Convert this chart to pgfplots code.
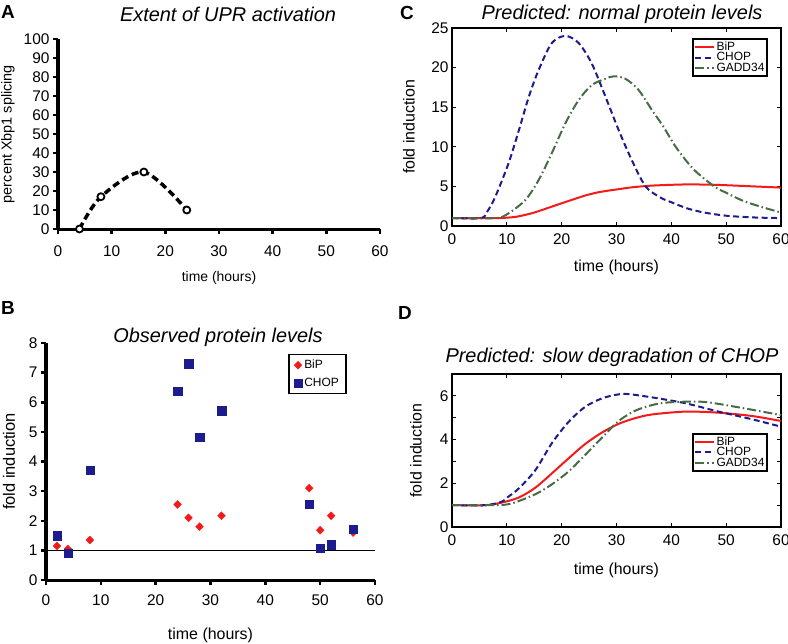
\documentclass[border=0pt]{standalone}
\usepackage{fontspec}
\setmainfont{Liberation Sans}
\usepackage{pgfplots}
\pgfplotsset{compat=1.18}

\definecolor{BipRed}{HTML}{F51A1A}
\definecolor{ChopBlue}{HTML}{1C1C8C}
\definecolor{GaddGreen}{HTML}{466C46}

\newcommand{\fs}[1]{\fontsize{#1}{#1}\selectfont}

\pgfplotsset{
  panel/.style={
    scale only axis, anchor=south west,
    xmin=0, xmax=60, xtick={0,10,...,60},
    /pgf/number format/assume math mode=true,
    tick label style={font=\fs{15.5}},
    every axis title shift=0pt,
    title style={font=\fs{20}\itshape, anchor=center},
    xlabel style={anchor=center, font=\fs{16}},
    ylabel style={anchor=center, font=\fs{16}},
  },
  prism/.style={
    panel, axis lines=left,
    axis line style={line width=3bp, -},
    tick style={line width=2.5bp, black},
    tick align=outside, major tick length=5bp,
  },
  matlab/.style={
    panel,
    axis line style={line width=1.6bp},
    tick style={line width=0.8bp, black},
    tick align=inside, major tick length=4bp,
    xticklabel style={yshift=-4.5bp},
    legend cell align=left,
    legend image code/.code={\draw[##1] (0bp,0bp) -- (19bp,0bp);},
    legend style={draw=black, line width=1.5bp, font=\fs{12}, anchor=north east,
      inner sep=1.5pt, row sep=-1.5pt, column sep=0pt,
      nodes={inner sep=1.2pt}},
  },
  bip/.style={BipRed, line width=2bp, smooth},
  chop/.style={ChopBlue, line width=2bp, smooth, dash pattern=on 6bp off 3.5bp},
  gadd/.style={GaddGreen, line width=2bp, smooth, dash pattern=on 9bp off 3bp on 1.5bp off 3bp},
}

\begin{document}
\begin{tikzpicture}
\path[use as bounding box] (0bp,0bp) rectangle (788bp,-644bp);

% A
\begin{axis}[prism, at={(58bp,-229bp)}, width=322bp, height=190bp,
  ymin=0, ymax=100, ytick={0,10,...,100}, clip=false,
  xticklabel style={yshift=-8bp},
  title={Extent of UPR activation},
  title style={at={([xshift=9bp,yshift=25bp]axis description cs:0.5,1)}},
  xlabel={time (hours)},
  xlabel style={at={([yshift=-49bp]axis description cs:0.5,0)}, font=\fs{14}},
  ylabel={percent Xbp1 splicing},
  ylabel style={at={([xshift=-50bp]axis description cs:0,0.5)}, font=\fs{14.5}},
]
\addplot[black, line width=3.5bp, dash pattern=on 7bp off 4bp, smooth,
  mark=*, mark size=3.5bp, mark options={solid, fill=white, draw=black, line width=1.8bp}]
  coordinates {(4,0) (8,17) (16,30) (24,10)};
\end{axis}

% B
\begin{axis}[prism, at={(46bp,-580bp)}, width=329bp, height=237bp,
  ymin=0, ymax=8, ytick={0,1,...,8}, clip=false,
  xticklabel style={yshift=-6bp},
  title={Observed protein levels},
  title style={at={([xshift=7.5bp,yshift=6bp]axis description cs:0.5,1)}},
  xlabel={time (hours)},
  xlabel style={at={([yshift=-55bp]axis description cs:0.5,0)}},
  ylabel={fold induction},
  ylabel style={at={([xshift=-37bp]axis description cs:0,0.5)}, font=\fs{16.5}},
  legend style={at={(0.736,0.954)}, anchor=north west, draw=black, line width=1.5bp,
    font=\fs{12}, row sep=4pt, inner xsep=5pt, inner ysep=3.5pt,
    /tikz/every even column/.append style={column sep=2pt}},
  legend cell align=left,
]
\addplot[only marks, mark=diamond*, mark size=4bp, color=BipRed,
  mark options={line width=0.3bp, xscale=1.3}]
  coordinates {(2,1.15) (4,1.05) (8,1.35) (24,2.55) (26,2.1) (28,1.8) (32,2.17)
               (48,3.1) (50,1.68) (52,2.17) (56,1.6)};
\addlegendentry{BiP}
\addplot[only marks, mark=square*, mark size=4.2bp, color=ChopBlue,
  mark options={line width=0.3bp}]
  coordinates {(2,1.5) (4,0.9) (8,3.7) (24,6.37) (26,7.3) (28,4.82) (32,5.72)
               (48,2.57) (50,1.08) (52,1.2) (56,1.72)};
\addlegendentry{CHOP}
\addplot[black, line width=1.3bp, forget plot] coordinates {(0,1) (60,1)};
\end{axis}

% C
\begin{axis}[matlab, at={(452bp,-226bp)}, width=329bp, height=198bp,
  ymin=0, ymax=25, ytick={0,5,...,25},
  title={Predicted: normal protein levels},
  title style={at={([xshift=5.5bp,yshift=14bp]axis description cs:0.5,1)}},
  xlabel={time (hours)},
  xlabel style={at={([yshift=-41bp]axis description cs:0.5,0)}},
  ylabel={fold induction},
  ylabel style={at={([xshift=-43bp]axis description cs:0,0.5)}},
  legend style={at={(0.960,0.949)}},
]
\addplot[bip] coordinates {(0,1) (8,1) (10,1.05) (12,1.2) (15,1.7) (18,2.4)
  (21,3.1) (24.3,3.85) (27,4.3) (30.4,4.65) (33,4.9) (36.5,5.1) (40,5.2)
  (43,5.25) (47,5.22) (50,5.15) (55,5.0) (60,4.85)};
\addlegendentry{BiP}
\addplot[chop] coordinates {(0,1) (5.3,1) (6.5,1.9) (7.9,3.7) (10.3,7.9)
  (12.2,12.1) (14,16.3) (15.8,19.7) (18.2,23.1) (20.7,24.0) (23.1,23.1)
  (25.5,20.5) (28,16.3) (30.4,12.1) (32.8,8.3) (35.3,5.0) (38,3.6) (40,3.0)
  (43,2.2) (46,1.7) (50,1.3) (55,1.08) (60,1.0)};
\addlegendentry{CHOP}
\addplot[gadd] coordinates {(0,1) (7.9,1.0) (10.3,1.6) (13.4,3.3) (15.8,5.8)
  (18.2,9.2) (20.7,13.0) (23.1,15.9) (25.5,17.8) (28,18.6) (29.5,18.9)
  (31.6,18.6) (34,17.2) (36.5,14.6) (38.5,12.6) (40.8,10) (44,7.2) (47.8,5)
  (50,4.2) (53,3.2) (56,2.5) (60,1.7)};
\addlegendentry{GADD34}
\end{axis}

% D
\begin{axis}[matlab, at={(452bp,-527bp)}, width=329bp, height=153bp,
  ymin=0, ymax=7, ytick={0,1,...,7}, yticklabels={0,,2,,4,,6,},
  title={Predicted: slow degradation of CHOP},
  title style={at={([xshift=-4.5bp,yshift=17bp]axis description cs:0.5,1)}},
  xlabel={time (hours)},
  xlabel style={at={([yshift=-43bp]axis description cs:0.5,0)}},
  ylabel={fold induction},
  ylabel style={at={([xshift=-36bp]axis description cs:0,0.5)}},
  legend style={at={(0.960,0.614)}},
]
\addplot[bip] coordinates {(0,1) (6.1,1) (9.1,1.12) (12.2,1.35) (15.2,1.8)
  (18.2,2.45) (21.3,3.15) (24.3,3.8) (27.4,4.33) (30.4,4.72) (33.4,4.98)
  (36.5,5.15) (42.6,5.28) (48.6,5.23) (54.7,5.08) (60,4.85)};
\addlegendentry{BiP}
\addplot[chop] coordinates {(0,1) (6.1,1) (9.1,1.16) (10.3,1.39) (12.2,1.77)
  (15.2,2.6) (18.2,3.83) (21.3,4.82) (24.3,5.5) (27.4,5.89) (30.4,6.07)
  (32.2,6.08) (36.5,5.93) (42.6,5.66) (48.6,5.28) (54.7,4.93) (60,4.59)};
\addlegendentry{CHOP}
\addplot[gadd] coordinates {(0,1) (7.9,1) (10.9,1.08) (15.2,1.5) (18.2,1.95)
  (21.3,2.55) (24.3,3.3) (27.4,4.1) (30.4,4.85) (33.4,5.32) (36.5,5.58)
  (39.5,5.7) (45.6,5.73) (51.7,5.5) (60,5.12)};
\addlegendentry{GADD34}
\end{axis}

\node[font=\fs{19}\bfseries] at (8bp,-12bp) {A};
\node[font=\fs{19}\bfseries] at (8bp,-308bp) {B};
\node[font=\fs{19}\bfseries] at (407bp,-13bp) {C};
\node[font=\fs{19}\bfseries] at (405bp,-313bp) {D};
\end{tikzpicture}
\end{document}
